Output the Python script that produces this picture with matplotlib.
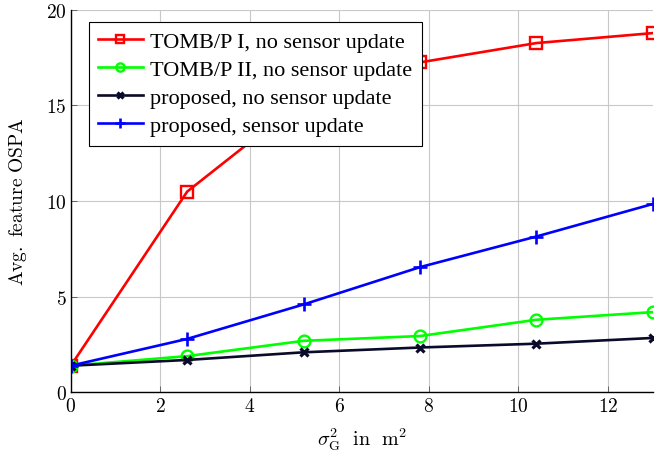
import matplotlib
matplotlib.use('Agg')
import matplotlib.pyplot as plt
from matplotlib.ticker import FuncFormatter

plt.rcParams['mathtext.fontset'] = 'cm'
plt.rcParams['font.family'] = 'Liberation Serif'

sigma = [0, 2.6, 5.2, 7.8, 10.4, 13]
tomb1 = [1.4, 10.5, 15.3, 17.25, 18.26, 18.78]
tomb2 = [1.4, 1.9, 2.7, 2.95, 3.8, 4.2]
prop_noupd = [1.4, 1.7, 2.1, 2.35, 2.55, 2.85]
prop_upd = [1.4, 2.8, 4.6, 6.55, 8.15, 9.85]

fig = plt.figure(figsize=(6.56, 4.60), dpi=100)
ax = fig.add_axes([0.108, 0.1446, 0.887, 0.832])

lw = 1.9
ax.plot(sigma, tomb1, color='#ff0000', lw=lw, marker='s', ms=8.5, mfc='none', mew=1.7,
        label='TOMB/P I, no sensor update')
ax.plot(sigma, tomb2, color='#00ff00', lw=lw, marker='o', ms=8.5, mfc='none', mew=1.7,
        label='TOMB/P II, no sensor update')
ax.plot(sigma, prop_noupd, color='#0a0a2a', lw=lw, marker='x', ms=6, mew=2.3,
        label='proposed, no sensor update')
ax.plot(sigma, prop_upd, color='#0000ff', lw=lw, marker='+', ms=9.5, mew=1.9,
        label='proposed, sensor update')

ax.set_xlim(0, 13)
ax.set_ylim(0, 20)
ax.set_xticks([0, 2, 4, 6, 8, 10, 12])
ax.set_yticks([0, 5, 10, 15, 20])
fmt = FuncFormatter(lambda v, p: '$%g$' % v)
ax.xaxis.set_major_formatter(fmt)
ax.yaxis.set_major_formatter(fmt)
ax.tick_params(direction='in', labelsize=14, length=4, width=0.6, color='#555555', pad=3)
ax.grid(True, color='#c8c8c8', lw=0.8)
ax.set_axisbelow(True)
ax.spines['top'].set_visible(False)
ax.spines['right'].set_visible(False)
ax.spines['left'].set_linewidth(1.0)
ax.spines['bottom'].set_linewidth(1.0)

ax.set_xlabel(r'$\sigma_{\mathrm{G}}^2\ \ \mathrm{in}\ \ \mathrm{m}^2$', fontsize=14.5, labelpad=8)
ax.set_ylabel(r'$\mathrm{Avg.\ feature\ OSPA}$', fontsize=14, labelpad=12)

leg = ax.legend(loc='upper left', bbox_to_anchor=(0.031, 0.968), borderaxespad=0,
                fontsize=16, fancybox=False, framealpha=1, edgecolor='black',
                handlelength=2.0, labelspacing=0.34, borderpad=0.42, handletextpad=0.35,
                markerscale=0.7)
leg.get_frame().set_linewidth(0.8)

fig.savefig('out.png', dpi=100)
